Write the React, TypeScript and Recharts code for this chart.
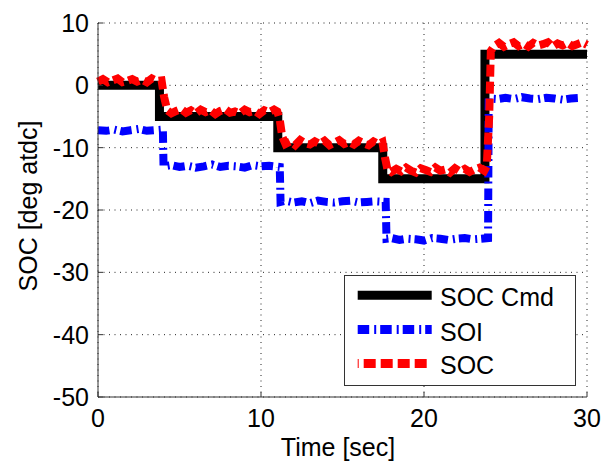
import React from 'react';
import { LineChart, Line, XAxis, YAxis, CartesianGrid, Legend } from 'recharts';

const xTicks = [0, 10, 20, 30];
const yTicks = [-50, -40, -30, -20, -10, 0, 10];

const cmdTime = [0, 3.77, 3.77, 11.03, 11.03, 17.47, 17.47, 23.74, 23.74, 30];
const cmdValue = [0, 0, -5, -5, -10, -10, -15, -15, 5, 5];

const soiTime = [
  0, 0.5, 1, 1.5, 2, 2.5, 3, 3.5, 3.98,
  4.02, 4.5, 5, 5.5, 6, 6.5, 7, 7.5, 8, 8.5, 9, 9.5, 10, 10.5, 11.15,
  11.2, 11.5, 12, 12.5, 13, 13.5, 14, 14.5, 15, 15.5, 16, 16.5, 17, 17.65,
  17.7, 18, 18.5, 19, 19.5, 20, 20.5, 21, 21.5, 22, 22.5, 23, 23.5, 23.93,
  23.97, 24.5, 25, 25.5, 26, 26.5, 27, 27.5, 28, 28.5, 29, 29.7,
];
const soiValue = [
  -7.2, -7.3, -7.1, -7.4, -7.2, -7.0, -7.3, -7.2, -7.1,
  -13.0, -12.8, -13.1, -12.9, -13.2, -13.0, -12.7, -13.1, -12.9, -13.0, -13.2, -12.8, -13.0, -12.9, -13.1,
  -18.7, -18.5, -18.8, -18.6, -18.9, -18.5, -18.7, -18.8, -18.6, -18.5, -18.8, -18.7, -18.6, -18.7,
  -24.6, -24.5, -24.8, -24.6, -24.7, -24.9, -24.5, -24.6, -24.8, -24.6, -24.5, -24.7, -24.6, -24.5,
  -2.1, -2.2, -2.0, -2.2, -1.9, -2.1, -2.2, -2.0, -2.1, -2.3, -2.1, -2.0,
];

const socTime = [
  0, 0.3, 0.6, 0.9, 1.2, 1.5, 1.8, 2.1, 2.4, 2.7, 3.0, 3.3, 3.6, 3.9,
  4.05, 4.25, 4.5, 4.8, 5.1, 5.4, 5.7, 6.0, 6.3, 6.6, 6.9, 7.2, 7.5, 7.8, 8.1, 8.4, 8.7, 9.0, 9.3, 9.6, 9.9, 10.2, 10.5, 10.8, 11.0,
  11.15, 11.3, 11.5, 11.8, 12.1, 12.4, 12.7, 13.0, 13.3, 13.6, 13.9, 14.2, 14.5, 14.8, 15.1, 15.4, 15.7, 16.0, 16.3, 16.6, 16.9, 17.2, 17.45,
  17.6, 17.75, 18.0, 18.3, 18.6, 18.9, 19.2, 19.5, 19.8, 20.1, 20.4, 20.7, 21.0, 21.3, 21.6, 21.9, 22.2, 22.5, 22.8, 23.1, 23.4, 23.7, 23.85,
  24.0, 24.1, 24.3, 24.6, 24.9, 25.2, 25.5, 25.8, 26.1, 26.4, 26.7, 27.0, 27.3, 27.6, 27.9, 28.2, 28.5, 28.8, 29.1, 29.4, 29.7, 30,
];
const socValue = [
  0.6, 1.0, 0.5, 0.8, 1.1, 0.5, 0.7, 1.0, 0.6, 0.9, 0.5, 1.1, 0.7, 0.8,
  -1.8, -4.0, -4.5, -4.1, -3.8, -4.4, -4.0, -4.5, -3.9, -4.3, -4.0, -4.6, -4.1, -3.8, -4.4, -4.2, -4.5, -3.9, -4.3, -4.1, -4.6, -4.0, -4.3, -3.9, -4.2,
  -5.5, -8.2, -9.4, -9.0, -9.6, -8.8, -9.3, -9.5, -9.0, -9.4, -8.9, -9.6, -9.2, -8.8, -9.4, -9.1, -9.5, -8.9, -9.3, -9.6, -9.0, -9.4, -9.1,
  -11.5, -13.4, -13.9, -13.4, -13.8, -13.2, -13.7, -14.0, -13.3, -13.6, -13.9, -13.2, -13.7, -13.5, -14.0, -13.3, -13.8, -13.4, -13.9, -13.5, -13.2, -13.7, -13.0,
  -5.0, 5.5, 6.3, 6.8, 6.2, 6.6, 6.9, 6.3, 6.7, 6.2, 6.8, 6.4, 6.6, 6.9, 6.2, 6.7, 6.4, 6.8, 6.3, 6.6, 6.9, 6.5,
];

const seriesNames = ['SOC Cmd', 'SOI', 'SOC'];
const seriesColors = ['#000000', '#0000ff', '#ff0000'];
const seriesDash = [undefined, '11.5 5 2 4', '12 5'];

const toData = (ts: number[], vs: number[]) => ts.map((t, i) => ({ t, v: vs[i] }));
const cmdData = toData(cmdTime, cmdValue);
const soiData = toData(soiTime, soiValue);
const socData = toData(socTime, socValue);

const FONT = '"Liberation Sans", Arial, Helvetica, sans-serif';
const AX = '#333333';

const LegendBox = () => {
  const lineY = [20.3, 54.5, 88.5];
  const textY = [31, 65.7, 99];
  return (
    <svg width={232} height={111} style={{ display: 'block' }}>
      <rect x={0.5} y={0.5} width={231} height={110} fill="#ffffff" stroke={AX} strokeWidth={1} />
      {seriesNames.map((n, i) => (
        <g key={n}>
          <line
            x1={13.7}
            x2={87.7}
            y1={lineY[i]}
            y2={lineY[i]}
            stroke={seriesColors[i]}
            strokeWidth={9}
            strokeDasharray={seriesDash[i]}
            strokeDashoffset={i === 2 ? 11 : 0}
          />
          <text x={96} y={textY[i]} fontSize={25} fontFamily={FONT} fill="#000">
            {n}
          </text>
        </g>
      ))}
    </svg>
  );
};

const XTitle = () => (
  <text x={338} y={456} textAnchor="middle" fontSize={25} fontFamily={FONT} fill="#000">
    Time [sec]
  </text>
);

const YTitle = () => (
  <text
    x={36.5}
    y={206}
    textAnchor="middle"
    fontSize={25}
    fontFamily={FONT}
    fill="#000"
    transform="rotate(-90, 36.5, 206)"
  >
    SOC [deg atdc]
  </text>
);

export default function App() {
  return (
    <div style={{ position: 'absolute', left: 0, top: 0, width: 602, height: 465, background: '#ffffff' }}>
      <LineChart width={602} height={465} margin={{ top: 23, right: 15, bottom: 0, left: 0 }}>
        <CartesianGrid stroke="#222" strokeDasharray="1 4.5" strokeWidth={1} />
        <XAxis
          dataKey="t"
          type="number"
          domain={[0, 30]}
          ticks={xTicks}
          height={68}
          allowDuplicatedCategory={false}
          axisLine={{ stroke: AX, strokeWidth: 1 }}
          tickLine={{ stroke: AX, strokeWidth: 1 }}
          tickSize={-5}
          tickMargin={17}
          tick={{ fill: '#000', fontSize: 25, fontFamily: FONT }}
          label={<XTitle />}
        />
        <YAxis
          dataKey="v"
          type="number"
          domain={[-50, 10]}
          ticks={yTicks}
          width={98}
          axisLine={{ stroke: AX, strokeWidth: 1 }}
          tickLine={{ stroke: AX, strokeWidth: 1 }}
          tickSize={-5}
          tickMargin={14}
          tick={{ fill: '#000', fontSize: 25, fontFamily: FONT }}
          label={<YTitle />}
        />
        <Line
          data={cmdData}
          dataKey="v"
          name={seriesNames[0]}
          stroke={seriesColors[0]}
          strokeWidth={9}
          strokeLinejoin="miter"
          dot={false}
          activeDot={false}
          isAnimationActive={false}
        />
        <Line
          data={soiData}
          dataKey="v"
          name={seriesNames[1]}
          stroke={seriesColors[1]}
          strokeWidth={8}
          strokeDasharray={seriesDash[1]}
          strokeLinejoin="miter"
          dot={false}
          activeDot={false}
          isAnimationActive={false}
        />
        <Line
          data={socData}
          dataKey="v"
          name={seriesNames[2]}
          stroke={seriesColors[2]}
          strokeWidth={8}
          strokeDasharray={seriesDash[2]}
          strokeLinejoin="miter"
          dot={false}
          activeDot={false}
          isAnimationActive={false}
        />
        <Legend
          layout="horizontal"
          verticalAlign="middle"
          align="center"
          content={<LegendBox />}
          wrapperStyle={{ position: 'absolute', left: 344, top: 275, width: 232, height: 111 }}
        />
      </LineChart>
    </div>
  );
}
